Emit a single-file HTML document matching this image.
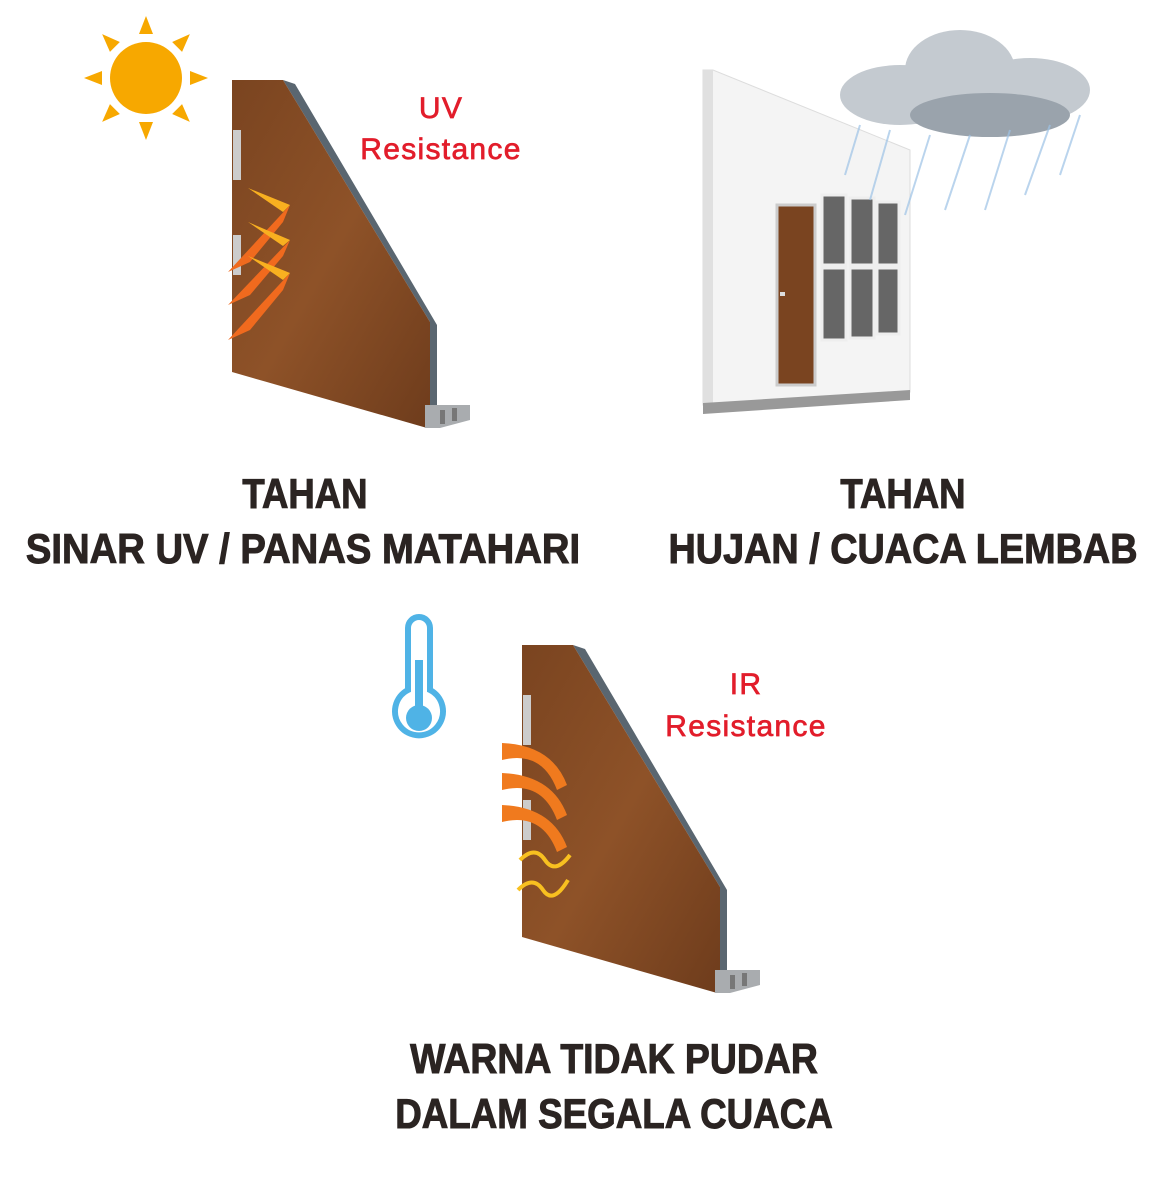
<!DOCTYPE html>
<html><head><meta charset="utf-8"><style>
body{margin:0;background:#fff;width:1164px;height:1181px;overflow:hidden;position:relative;font-family:"Liberation Sans",sans-serif}
.h{position:absolute;font-weight:bold;color:#2b2422;font-size:42px;white-space:nowrap;transform-origin:center;text-align:center;-webkit-text-stroke:1px #2b2422}
.r{position:absolute;color:#e21d2b;font-size:30px;text-align:center;letter-spacing:1.3px;-webkit-text-stroke:.7px #e21d2b}
</style></head><body>
<svg width="1164" height="1181" style="position:absolute;left:0;top:0">
<defs>
<linearGradient id="wood" x1="0" x2="1" y1="0" y2="1"><stop offset="0" stop-color="#7a4420"/><stop offset=".5" stop-color="#8e5228"/><stop offset="1" stop-color="#6e3c1c"/></linearGradient>
<g id="door">
<polygon points="283,80 295,84 437,325 437,412 430,412 430,322" fill="#5a6670"/>
<polygon points="232,80 283,80 430,322 430,412 427,428 232,372" fill="url(#wood)"/>
<rect x="233" y="130" width="8" height="50" fill="#ccc"/>
<rect x="233" y="235" width="8" height="40" fill="#ccc"/>
<polygon points="425,405 470,405 470,420 440,428 425,428" fill="#a9acaf"/>
<rect x="440" y="410" width="5" height="14" fill="#777"/><rect x="452" y="408" width="5" height="13" fill="#777"/>
</g>
</defs>
<g fill="#f7a800"><circle cx="146" cy="78" r="36"/>
<g transform="translate(146,78)">
<polygon points="-7,-44 7,-44 0,-62"/><polygon points="-7,44 7,44 0,62"/><polygon points="-44,-7 -44,7 -62,0"/><polygon points="44,-7 44,7 62,0"/>
<g transform="rotate(45)"><polygon points="-7,-44 7,-44 0,-62"/><polygon points="-7,44 7,44 0,62"/><polygon points="-44,-7 -44,7 -62,0"/><polygon points="44,-7 44,7 62,0"/></g></g></g>
<use href="#door"/>
<g fill="#f06a1e"><polygon points="290,205 228,272 250,262 283,222"/><polygon points="290,240 228,305 250,295 283,256"/><polygon points="290,273 228,340 250,330 283,290"/>
<polygon points="248,188 290,205 283,212" fill="#f8b020"/><polygon points="248,222 290,240 283,246" fill="#f8b020"/><polygon points="248,256 290,273 283,280" fill="#f8b020"/></g>
<polygon points="703,70 713,70 910,150 910,392 713,405 703,405" fill="#f4f4f4" stroke="#ddd"/>
<polygon points="703,70 713,70 713,405 703,405" fill="#e0e0e0"/>
<polygon points="703,403 910,390 910,400 703,414" fill="#999"/>
<rect x="777" y="205" width="38" height="180" fill="#7a4420" stroke="#ccc" stroke-width="3"/>
<rect x="780" y="292" width="5" height="4" fill="#ddd"/>
<g fill="#666" stroke="#eee" stroke-width="3"><rect x="822" y="195" width="24" height="70"/><rect x="850" y="198" width="24" height="67"/><rect x="877" y="202" width="22" height="63"/>
<rect x="822" y="268" width="24" height="72"/><rect x="850" y="268" width="24" height="70"/><rect x="877" y="268" width="22" height="66"/></g>
<g fill="#c4cad0"><ellipse cx="900" cy="95" rx="60" ry="30"/><ellipse cx="960" cy="70" rx="55" ry="40"/><ellipse cx="1030" cy="90" rx="60" ry="32"/><ellipse cx="990" cy="115" rx="80" ry="22" fill="#9aa3ac"/></g>
<g stroke="#9ec3e6" stroke-width="2" opacity=".7"><line x1="860" y1="125" x2="845" y2="175"/><line x1="890" y1="130" x2="870" y2="200"/><line x1="930" y1="135" x2="905" y2="215"/><line x1="970" y1="135" x2="945" y2="210"/><line x1="1010" y1="130" x2="985" y2="210"/><line x1="1050" y1="125" x2="1025" y2="195"/><line x1="1080" y1="115" x2="1060" y2="175"/></g>
<g stroke="#4fb3e6" stroke-width="6" fill="none"><path d="M408,690 V628 a11,11 0 0 1 22,0 V690 a24,24 0 1 1 -22,0 Z"/></g>
<circle cx="419" cy="718" r="13" fill="#4fb3e6"/><rect x="415" y="660" width="8" height="55" fill="#4fb3e6"/>
<use href="#door" transform="translate(290,565)"/>
<g fill="#f07a1e"><path d="M502,760 q40,-10 55,30 l10,-5 q-15,-40 -65,-42z"/><path d="M502,790 q40,-10 55,30 l10,-5 q-15,-40 -65,-42z"/><path d="M502,822 q40,-10 55,30 l10,-5 q-15,-40 -65,-42z"/></g>
<g stroke="#f8c020" stroke-width="4" fill="none"><path d="M520,860 q15,-15 25,0 t25,-5"/><path d="M518,890 q15,-15 25,0 t25,-10"/></g>
</svg>
<div class="r" style="left:341px;top:92px;width:200px">UV</div>
<div class="r" style="left:341px;top:133px;width:200px">Resistance</div>
<div class="r" style="left:646px;top:668px;width:200px">IR</div>
<div class="r" style="left:646px;top:710px;width:200px">Resistance</div>
<div class="h" style="left:105px;top:470px;width:400px;transform:scaleX(.87)">TAHAN</div>
<div class="h" style="left:-25px;top:525px;width:656px;transform:scaleX(.91)">SINAR UV / PANAS MATAHARI</div>
<div class="h" style="left:703px;top:470px;width:400px;transform:scaleX(.87)">TAHAN</div>
<div class="h" style="left:623px;top:525px;width:560px;transform:scaleX(.90)">HUJAN / CUACA LEMBAB</div>
<div class="h" style="left:364px;top:1035px;width:500px;transform:scaleX(.89)">WARNA TIDAK PUDAR</div>
<div class="h" style="left:344px;top:1090px;width:540px;transform:scaleX(.875)">DALAM SEGALA CUACA</div>
</body></html>
